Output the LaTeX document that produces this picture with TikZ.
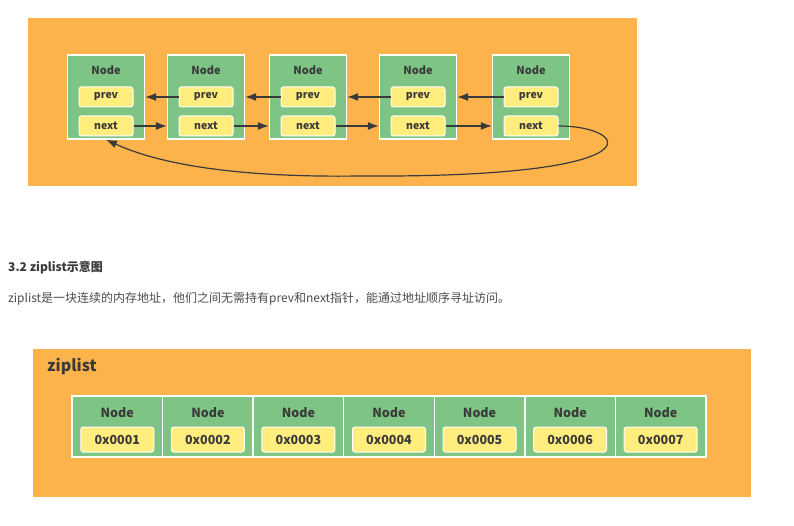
\documentclass[tikz,border=0pt]{standalone}
\usepackage{fontspec}
\setmainfont{Noto Sans CJK SC}
\usepackage{xcolor}
\usetikzlibrary{shapes,arrows.meta,positioning}

\definecolor{panelorange}{RGB}{253,179,76}
\definecolor{nodegreen}{RGB}{126,196,132}
\definecolor{fieldyellow}{RGB}{255,237,125}
\definecolor{inktext}{RGB}{58,58,58}
\definecolor{bodytext}{RGB}{77,77,77}

\begin{document}
\begin{tikzpicture}[
    x=1pt, y=-1pt,
    cell/.style={rectangle, draw=white, line width=1.3pt, fill=nodegreen, inner sep=0pt},
    field/.style={rectangle, rounded corners=2.5pt, draw=white, line width=1pt, fill=fieldyellow,
        inner sep=0pt, text=inktext, font=\bfseries\fontsize{#1}{#1}\selectfont},
    title/.style={inner sep=0pt, text=inktext, font=\bfseries\fontsize{#1}{#1}\selectfont},
    ptr/.style={draw=inktext, line width=1.2pt, -{Latex[length=11pt,width=8pt]}}
]
    \useasboundingbox (0,0) rectangle (794,526);
    \fill[white] (0,0) rectangle (794,526);

    % Linked list panel
    \fill[panelorange] (28,18) rectangle (637,186);
    \foreach \i/\x in {1/106,2/206,3/308,4/418,5/531}{
        \node[cell, minimum width=77pt, minimum height=84pt] (n\i) at (\x,97) {};
        \node[title=11] (t\i) at (\x,70) {Node};
        \node[field=10.5, minimum width=54pt, minimum height=20pt] (p\i) at (\x,97) {prev};
        \node[field=10.5, minimum width=54pt, minimum height=20pt] (x\i) at (\x,126) {next};
    }
    \foreach \i/\j in {1/2,2/3,3/4,4/5}{
        \draw[ptr] (p\j.west) -- (n\i.east);
        \draw[ptr] (x\i.east) -- (x\i.east -| n\j.west);
    }
    \draw[ptr] (x5.east) .. controls (630,126) and (665,178) .. (360,176)
        .. controls (220,178) and (150,160) .. (n1.south);

    % Text between the panels
    \node[anchor=west, inner sep=0pt, text=inktext, font=\bfseries\fontsize{12}{12}\selectfont] (head) at (8,268) {3.2 ziplist示意图};
    \node[anchor=west, inner sep=0pt, text=bodytext, font=\fontsize{12}{12}\selectfont] (body) at (8,299)
        {ziplist是一块连续的内存地址，他们之间无需持有prev和next指针，能通过地址顺序寻址访问。};

    % Ziplist panel
    \fill[panelorange] (33,349) rectangle (751,497);
    \node[anchor=west, title=16] (zl) at (47,367) {ziplist};
    \foreach \i in {1,...,7}{
        \pgfmathsetmacro{\cx}{72+90.57*(\i-0.5)}
        \node[cell, minimum width=90.57pt, minimum height=61pt] (c\i) at (\cx,426.5) {};
        \node[title=12.5] (m\i) at (\cx,413) {Node};
        \node[field=12.5, minimum width=73pt, minimum height=25pt] (a\i) at (\cx,439.5) {0x000\i};
    }
\end{tikzpicture}
\end{document}
